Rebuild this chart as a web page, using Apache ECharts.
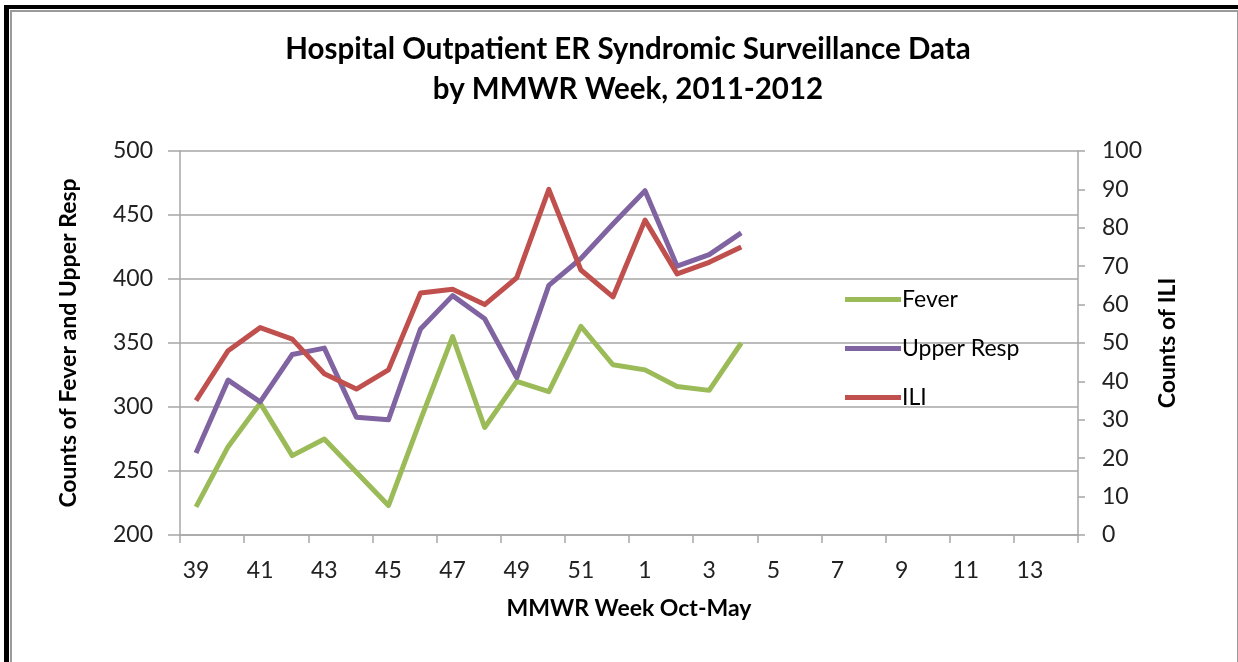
<!DOCTYPE html>
<html>
<head>
<meta charset="utf-8">
<title>Hospital Outpatient ER Syndromic Surveillance Data</title>
<script src="https://cdn.jsdelivr.net/npm/echarts@6/dist/echarts.min.js"></script>
<style>
  html, body { margin: 0; padding: 0; background: #ffffff; }
  #chart { position: absolute; left: 0; top: 0; width: 1238px; height: 662px; }
  /* chart-area frame: heavy dark edge top/left, thin grey inner edge */
  #frame {
    position: absolute; left: 4px; top: 5px; width: 1234px; height: 700px;
    border-top: 4px solid #000; border-left: 5px solid #000;
    box-sizing: border-box; pointer-events: none;
  }
  #frame-inner {
    position: absolute; left: 1px; top: 1px; right: 0; bottom: 0;
    border-top: 2px solid #9a9a9a; border-left: 2px solid #9a9a9a; border-right: 1px solid #9a9a9a;
    box-sizing: border-box;
  }
</style>
</head>
<body>
<div id="chart"></div>
<div id="frame"><div id="frame-inner"></div></div>
<script>
// MMWR weeks, October through the following spring
const weeks = ['39','40','41','42','43','44','45','46','47','48','49','50','51','52',
               '1','2','3','4','5','6','7','8','9','10','11','12','13','14'];

// weekly counts (left axis)
const fever      = [222, 269, 303, 262, 275, 249, 223, 290, 355, 284, 320, 312, 363, 333, 329, 316, 313, 350];
const upperResp  = [264, 321, 304, 341, 346, 292, 290, 361, 387, 369, 323, 395, 416, 443, 469, 410, 419, 436];
// weekly ILI counts (right axis)
const ili        = [35, 48, 54, 51, 42, 38, 43, 63, 64, 60, 67, 90, 69, 62, 82, 68, 71, 75];

const FONT = 'Lato, "Open Sans", sans-serif';
const GRID_GREY = '#a6a6a6';
const LABEL_SIZE = 23;

const chart = echarts.init(document.getElementById('chart'), null, { renderer: 'canvas' });

chart.setOption({
  backgroundColor: '#ffffff',
  animation: false,
  title: {
    text: 'Hospital Outpatient ER Syndromic Surveillance Data\nby MMWR Week, 2011-2012',
    left: 623,
    top: 24,
    textAlign: 'center',
    textStyle: { fontFamily: FONT, fontSize: 29.5, fontWeight: 'bold', color: '#000', lineHeight: 40 }
  },
  legend: {
    orient: 'vertical',
    left: 840,
    top: 283,
    itemWidth: 56,
    itemHeight: 5,
    itemGap: 26,
    icon: 'rect',
    textStyle: { fontFamily: FONT, fontSize: 23, color: '#000', lineHeight: 23, padding: [0, 0, 0, -4] },
    data: ['Fever', 'Upper Resp', 'ILI']
  },
  grid: { left: 180, right: 160, top: 151, bottom: 127, containLabel: false },
  xAxis: {
    type: 'category',
    data: weeks,
    boundaryGap: true,
    name: 'MMWR Week Oct-May',
    nameLocation: 'middle',
    nameGap: 62,
    nameTextStyle: { fontFamily: FONT, fontSize: 23, fontWeight: 'bold', color: '#000' },
    axisLine: { lineStyle: { color: GRID_GREY, width: 1.5 } },
    axisTick: { show: true, interval: 1, length: 8, lineStyle: { color: GRID_GREY, width: 1.5 } },
    axisLabel: { interval: 1, fontFamily: FONT, fontSize: LABEL_SIZE, color: '#222', margin: 24 },
    splitLine: { show: false }
  },
  yAxis: [
    {
      type: 'value',
      min: 200, max: 500, interval: 50,
      position: 'left',
      name: 'Counts of Fever and Upper Resp',
      nameLocation: 'middle',
      nameRotate: 90,
      nameGap: 100,
      nameTextStyle: { fontFamily: FONT, fontSize: 23, fontWeight: 'bold', color: '#000' },
      axisLine: { show: true, lineStyle: { color: GRID_GREY, width: 1.5 } },
      axisTick: { show: true, length: 12, inside: false, lineStyle: { color: GRID_GREY, width: 1.5 } },
      axisLabel: { fontFamily: FONT, fontSize: LABEL_SIZE, color: '#222', margin: 27 },
      splitLine: { show: true, lineStyle: { color: GRID_GREY, width: 1.5 } }
    },
    {
      type: 'value',
      min: 0, max: 100, interval: 10,
      position: 'right',
      name: 'Counts of ILI',
      nameLocation: 'middle',
      nameRotate: 90,
      nameGap: 78,
      nameTextStyle: { fontFamily: FONT, fontSize: 23, fontWeight: 'bold', color: '#000' },
      axisLine: { show: true, lineStyle: { color: GRID_GREY, width: 1.5 } },
      axisTick: { show: true, length: 7, lineStyle: { color: GRID_GREY, width: 1.5 } },
      axisLabel: { fontFamily: FONT, fontSize: LABEL_SIZE, color: '#222', margin: 24 },
      splitLine: { show: false }
    }
  ],
  series: [
    {
      name: 'Fever', type: 'line', yAxisIndex: 0, data: fever,
      symbol: 'none', color: '#9bbb59',
      lineStyle: { width: 5, color: '#9bbb59', join: 'round' }
    },
    {
      name: 'Upper Resp', type: 'line', yAxisIndex: 0, data: upperResp,
      symbol: 'none', color: '#8064a2',
      lineStyle: { width: 5, color: '#8064a2', join: 'round' }
    },
    {
      name: 'ILI', type: 'line', yAxisIndex: 1, data: ili,
      symbol: 'none', color: '#c0504d',
      lineStyle: { width: 5, color: '#c0504d', join: 'round' }
    }
  ]
});
</script>
</body>
</html>
